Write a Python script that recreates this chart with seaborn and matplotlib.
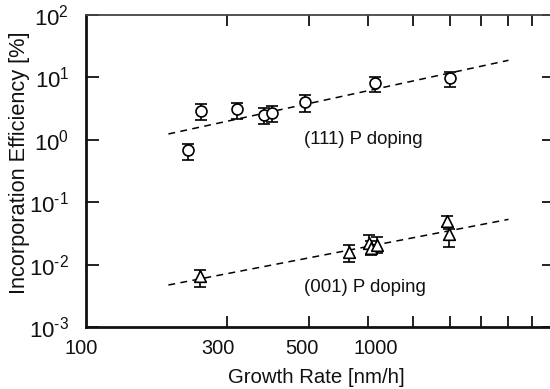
import numpy as np
import matplotlib
matplotlib.use("Agg")
import matplotlib.pyplot as plt
import matplotlib.ticker as mticker
import matplotlib.transforms as mtransforms
import seaborn as sns

# ---- data (axis coordinates) ----
rate_111 = [165.5, 176.1, 209.9, 240.2, 250.1, 293.9, 414.8, 600.0]
eff_111 = [0.686, 2.89, 3.08, 2.50, 2.72, 4.02, 8.04, 9.74]
eff_111_lo = [0.475, 2.04, 2.13, 1.79, 1.93, 2.84, 5.77, 6.89]
eff_111_hi = [0.857, 3.75, 3.93, 3.20, 3.48, 5.13, 10.26, 12.43]

rate_001 = [175.2, 365.0, 402.7, 406.6, 419.0, 590.3, 597.0]
eff_001 = [0.00657, 0.01609, 0.0226, 0.01845, 0.0206, 0.0505, 0.0306]
eff_001_lo = [0.00433, 0.01113, 0.01746, 0.01425, 0.01534, 0.0405, 0.01936]
eff_001_hi = [0.00819, 0.0206, 0.0293, 0.0239, 0.0277, 0.0608, 0.0368]

fit_rate = [150, 800]
fit_111 = [1.24, 18.8]
fit_001 = [0.00471, 0.0531]

xtick_pos = [100, 191.6, 289.2, 416.4]
xtick_labels = ["100", "300", "500", "1000"]
xminor_pos = [200, 300, 400, 500, 600, 700, 800, 900]
ytick_pos = [1e-3, 1e-2, 1e-1, 1e0, 1e1, 1e2]
HY = "\u2010"
ytick_labels = [r"$\mathregular{10^{%s3}}$" % HY, r"$\mathregular{10^{%s2}}$" % HY,
                r"$\mathregular{10^{%s1}}$" % HY,
                r"$\mathregular{10^{0}}$", r"$\mathregular{10^{1}}$", r"$\mathregular{10^{2}}$"]

sns.set_theme(style="ticks")
plt.rcParams["font.family"] = ["Liberation Sans", "DejaVu Sans"]
plt.rcParams["mathtext.fontset"] = "custom"
plt.rcParams["mathtext.rm"] = "Liberation Sans"
plt.rcParams["mathtext.it"] = "Liberation Sans:italic"
plt.rcParams["mathtext.bf"] = "Liberation Sans:bold"

fig = plt.figure(figsize=(5.5, 3.89), dpi=100)
ax = fig.add_axes([86 / 550, 1 - 327 / 389, 467.8 / 550, 312 / 389])
ax.set_xscale("log")
ax.set_yscale("log")
ax.set_xlim(100, 1000)
ax.set_ylim(1e-3, 1e2)

# fit lines
sns.lineplot(x=fit_rate, y=fit_111, ax=ax, color="black", linewidth=1.1,
             linestyle=(0, (4.5, 3.5)), zorder=1)
sns.lineplot(x=fit_rate, y=fit_001, ax=ax, color="black", linewidth=1.1,
             linestyle=(0, (4.5, 3.5)), zorder=1)

# error bars
y = np.array(eff_111)
ax.errorbar(rate_111, y, yerr=[y - np.array(eff_111_lo), np.array(eff_111_hi) - y],
            fmt="none", ecolor="black", elinewidth=1.2, capsize=4.2, capthick=1.2, zorder=2)
y2 = np.array(eff_001)
ax.errorbar(rate_001, y2, yerr=[y2 - np.array(eff_001_lo), np.array(eff_001_hi) - y2],
            fmt="none", ecolor="black", elinewidth=1.2, capsize=4.2, capthick=1.2, zorder=2)

# markers
sns.scatterplot(x=rate_111, y=eff_111, ax=ax, marker="o", s=62, facecolor="white",
                edgecolor="black", linewidth=1.2, zorder=3)
sns.scatterplot(x=rate_001, y=eff_001, ax=ax, marker="^", s=70, facecolor="white",
                edgecolor="black", linewidth=1.2, zorder=3)

# annotations
ax.text(292.6, 1.0, "(111) P doping", fontsize=13.4, ha="left", va="center", color="#111111")
ax.text(292.6, 0.00422, "(001) P doping", fontsize=13.4, ha="left", va="center", color="#111111")

# ticks
ax.xaxis.set_major_locator(mticker.FixedLocator(xtick_pos))
ax.xaxis.set_major_formatter(mticker.FixedFormatter(xtick_labels))
ax.xaxis.set_minor_locator(mticker.FixedLocator(xminor_pos))
ax.xaxis.set_minor_formatter(mticker.NullFormatter())
ax.tick_params(axis="x", which="major", length=0, labelsize=14.4, pad=9,
               top=True, bottom=True, labelcolor="#111111")
ax.tick_params(axis="x", which="minor", length=8, width=1.3, direction="in",
               top=True, bottom=True, color="#111111")

ax.yaxis.set_major_locator(mticker.FixedLocator(ytick_pos))
ax.yaxis.set_major_formatter(mticker.FixedFormatter(ytick_labels))
ax.yaxis.set_minor_locator(mticker.NullLocator())
ax.tick_params(axis="y", which="major", length=9, width=1.3, direction="in",
               left=True, right=True, labelsize=16, pad=12, labelcolor="#111111",
               color="#111111")

# shift the first x label slightly left, as in the reference
fig.canvas.draw()
first = ax.xaxis.get_major_ticks()[0].label1
first.set_transform(first.get_transform() +
                    mtransforms.ScaledTranslation(-5.3 / 100, 0, fig.dpi_scale_trans))

for side in ["left", "bottom"]:
    ax.spines[side].set_linewidth(2.0)
    ax.spines[side].set_color("#111111")
ax.spines["top"].set_linewidth(1.3)
ax.spines["top"].set_color("#444444")
ax.spines["right"].set_linewidth(1.3)

ax.set_xlabel("Growth Rate [nm/h]", fontsize=14.7, color="#111111")
ax.set_ylabel("Incorporation Efficiency [%]", fontsize=15.7, color="#111111")
ax.xaxis.set_label_coords((316.5 - 86) / 467.8, (327 - 368) / 312)
ax.yaxis.set_label_coords((30 - 86) / 467.8, (327 - 162.5) / 312)

fig.savefig("out.png", dpi=100)
